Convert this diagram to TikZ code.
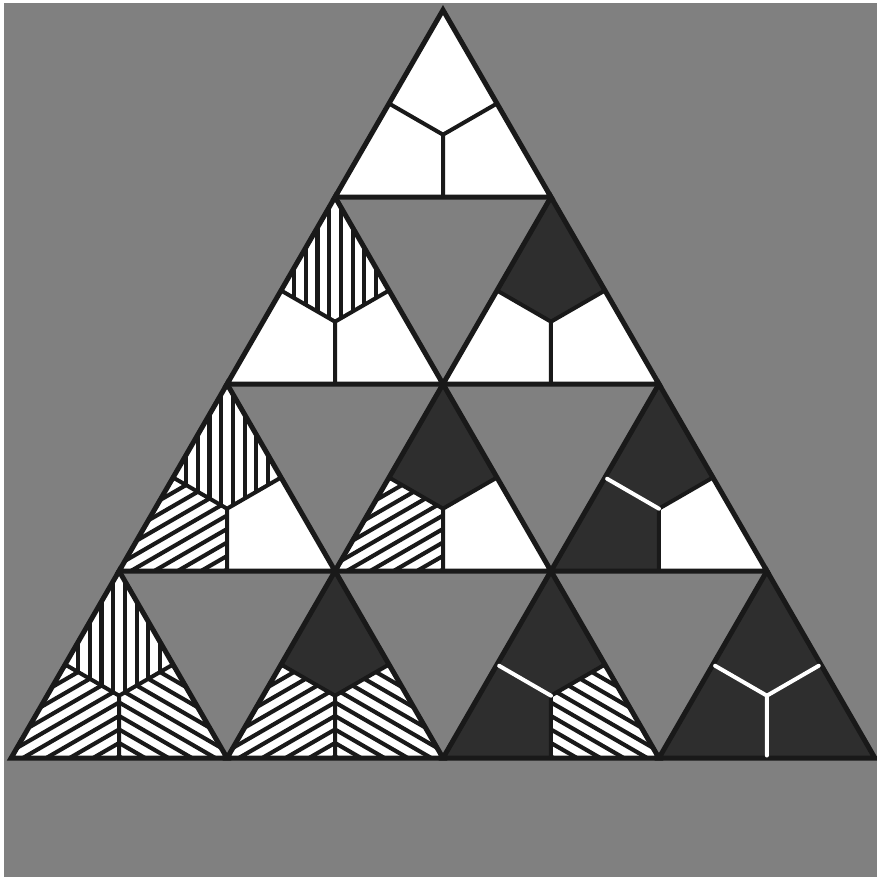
\documentclass[tikz,border=0pt]{standalone}
\usetikzlibrary{calc}

% size of one small triangle (in pixels of the figure, 1px = 0.2mm)
\def\cellw{215.94}
\def\cellh{187}

\tikzset{
  halftone/.style={fill=black!50},
  rim/.style={draw=black!90, line width=1mm},
  seam/.style={draw=black!90, line width=0.8mm},
  whiteseam/.style={draw=white, line width=0.8mm, line cap=round, shorten <=0.5mm},
  lite/.style={fill=white},
  dark/.style={fill=black!82},
  hatchline/.style={draw=black!90, line width=0.82mm},
  % lines run parallel to the median through the corner of the part
  hatch/.style={fill=white, path picture={
    \begin{scope}[shift={(C)}, rotate=#1]
      \foreach \n in {-10,...,9}
        \draw[hatchline] ({(\n+0.5)*11.7},-170) -- ({(\n+0.5)*11.7},170);
    \end{scope}}},
}

% one upward triangle: row, place in row, top part, left part, right part
\newcommand{\upcell}[5]{%
  \coordinate (P) at ({443+(#2-#1/2)*\cellw}, {10+#1*\cellh});
  \coordinate (L) at ($(P)+(-\cellw/2,\cellh)$);
  \coordinate (R) at ($(P)+(\cellw/2,\cellh)$);
  \coordinate (mL) at ($(P)!0.5!(L)$);
  \coordinate (mR) at ($(P)!0.5!(R)$);
  \coordinate (mB) at ($(L)!0.5!(R)$);
  \coordinate (C) at ($(P)+(0,2*\cellh/3)$);
  \fill[#3] (P) -- (mR) -- (C) -- (mL) -- cycle;
  \fill[#4] (L) -- (mL) -- (C) -- (mB) -- cycle;
  \fill[#5] (R) -- (mB) -- (C) -- (mR) -- cycle;
  \draw[seam] (mL) -- (C) -- (mR) (C) -- (mB);
  \draw[rim] (P) -- (L) -- (R) -- cycle;
  \coordinate (c#1#2) at (C);
  \coordinate (l#1#2) at (mL);
  \coordinate (r#1#2) at (mR);
  \coordinate (b#1#2) at (mB);
}

\begin{document}
\begin{tikzpicture}[x=0.2mm, y=-0.2mm]
  % page and halftone ground
  \fill[white] (0,0) rectangle (877,877);
  \useasboundingbox (0,0) rectangle (877,877);
  \fill[halftone] (4,3) rectangle (877,877);

  % --- ROW 1 ---
  \upcell{0}{0}{lite}{lite}{lite}

  % --- ROW 2 ---
  \upcell{1}{0}{hatch=0}{lite}{lite}
  \upcell{1}{1}{dark}{lite}{lite}

  % --- ROW 3 ---
  \upcell{2}{0}{hatch=0}{hatch=-60}{lite}
  \upcell{2}{1}{dark}{hatch=-60}{lite}
  \upcell{2}{2}{dark}{dark}{lite}

  % --- ROW 4 ---
  \upcell{3}{0}{hatch=0}{hatch=-60}{hatch=60}
  \upcell{3}{1}{dark}{hatch=-60}{hatch=60}
  \upcell{3}{2}{dark}{dark}{hatch=60}
  \upcell{3}{3}{dark}{dark}{dark}

  % white seams where two dark parts meet
  \draw[whiteseam] (l22) -- (c22);
  \draw[whiteseam] (l32) -- (c32);
  \draw[whiteseam] (l33) -- (c33);
  \draw[whiteseam] (r33) -- (c33);
  \draw[whiteseam] (b33) -- (c33);
\end{tikzpicture}
\end{document}
